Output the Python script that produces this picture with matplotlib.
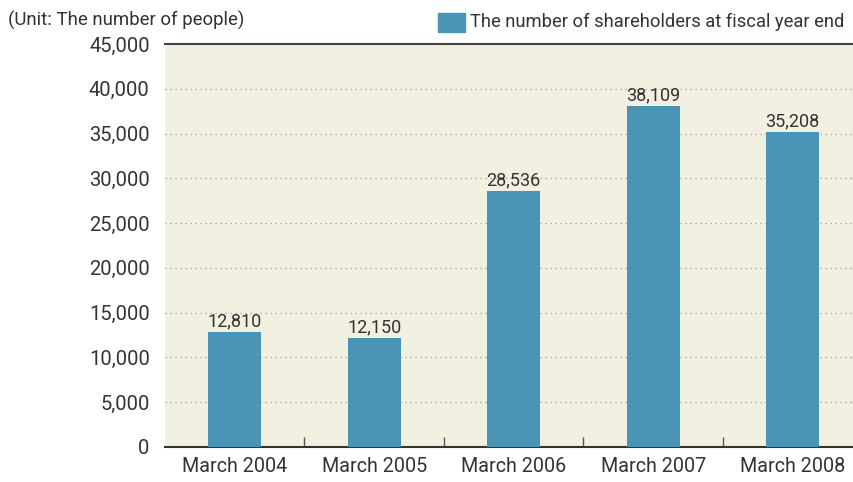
import matplotlib.pyplot as plt
from matplotlib.patches import Rectangle

categories = ['March 2004', 'March 2005', 'March 2006', 'March 2007', 'March 2008']
shareholders = [12810, 12150, 28536, 38109, 35208]
yticks = [0, 5000, 10000, 15000, 20000, 25000, 30000, 35000, 40000, 45000]

plt.rcParams['font.family'] = ['Roboto', 'DejaVu Sans']
text_color = '#333333'
bar_color = '#4A95B5'

fig = plt.figure(figsize=(8.54, 4.82), dpi=100)
ax = fig.add_axes([165 / 854, 35 / 482, 697.5 / 854, 403 / 482])
ax.set_facecolor('#F2F0E0')

x = list(range(len(categories)))
bars = ax.bar(x, shareholders, width=0.38, color=bar_color, zorder=3)
for b, v in zip(bars, shareholders):
    ax.text(b.get_x() + b.get_width() / 2, v + 200, f'{v:,}', ha='center', va='bottom',
            fontsize=13, color=text_color, zorder=4)

ax.set_xlim(-0.5, len(categories) - 0.5)
ax.set_ylim(0, 45000)
ax.set_yticks(yticks)
ax.set_yticklabels([f'{t:,}' for t in yticks])
ax.set_xticks(x)
ax.set_xticklabels(categories)
ax.set_xticks([i + 0.5 for i in x[:-1]], minor=True)
ax.tick_params(axis='x', which='major', length=0, pad=7, labelsize=14.2, labelcolor=text_color)
ax.tick_params(axis='x', which='minor', direction='in', length=7, width=1, color='#555555')
ax.tick_params(axis='y', length=0, pad=11, labelsize=14.5, labelcolor=text_color)

for t in yticks[1:-1]:
    ax.axhline(t, color='#999999', linestyle=(0, (1, 3)), linewidth=0.9, zorder=1)

for s in ['left', 'right']:
    ax.spines[s].set_visible(False)
ax.spines['top'].set_color('#444444')
ax.spines['top'].set_linewidth(1.5)
ax.spines['bottom'].set_color('#333333')
ax.spines['bottom'].set_linewidth(1.5)

fig.text(8 / 854, 1 - 20 / 482, '(Unit: The number of people)', ha='left', va='center',
         fontsize=13.4, color=text_color)
fig.patches.append(Rectangle((438 / 854, 1 - 32 / 482), 27 / 854, 19 / 482,
                             transform=fig.transFigure, color=bar_color))
fig.text(844 / 854, 1 - 22 / 482, 'The number of shareholders at fiscal year end',
         ha='right', va='center', fontsize=13.2, color=text_color)

fig.savefig('out.png', dpi=100)
